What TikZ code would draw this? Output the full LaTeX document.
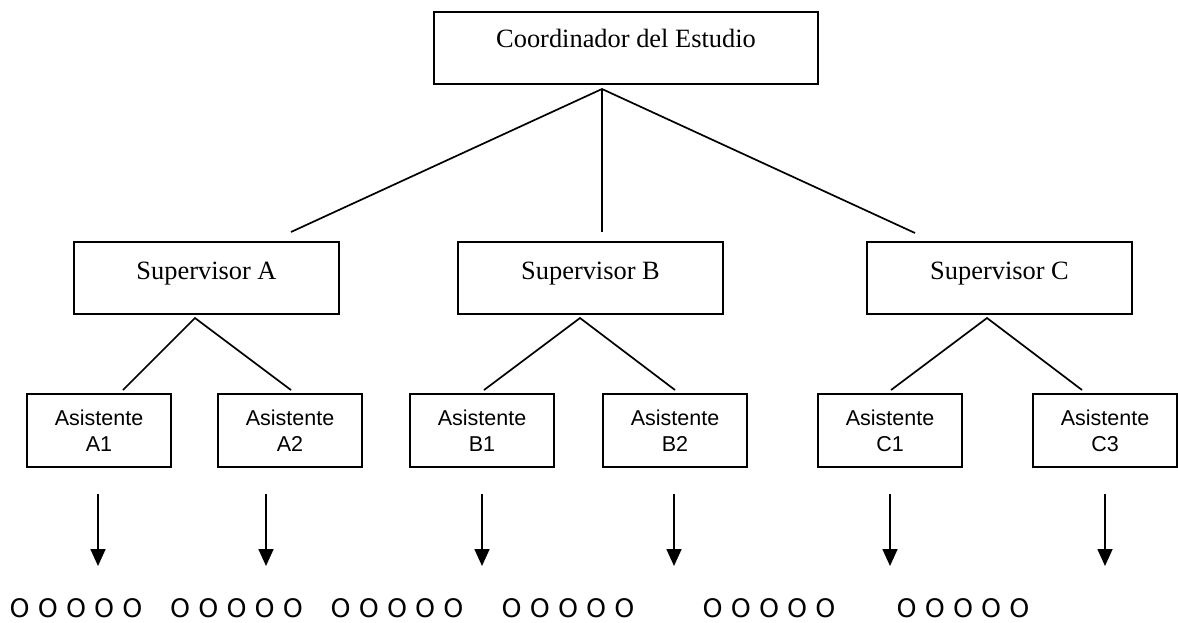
\documentclass[tikz,border=0pt]{standalone}
\usepackage{fontspec}
\setmainfont{Liberation Serif}
\newfontfamily\arialf{Liberation Sans}
\newfontfamily\dejavuf{DejaVu Sans}
\usetikzlibrary{arrows.meta}
\begin{document}
\begin{tikzpicture}[x=1pt,y=-1pt,
  boxst/.style={draw, line width=1.7pt, rectangle, inner sep=0pt},
  coordbox/.style={boxst, minimum width=384pt, minimum height=72pt},
  supbox/.style={boxst, minimum width=265pt, minimum height=72pt},
  asbox/.style={boxst, minimum width=144pt, minimum height=73pt},
  lnk/.style={line width=1.7pt},
  arr/.style={line width=1.7pt, -{Triangle[length=17pt,width=15pt]}},
  sertext/.style={font=\fontsize{26.4}{31}\selectfont, anchor=base, inner sep=0pt},
  santext/.style={font=\arialf\fontsize{21.5}{26}\selectfont, align=center, anchor=north, inner sep=0pt},
  otext/.style={font=\dejavuf\fontsize{25.5}{30}\selectfont, anchor=base west, inner sep=0pt}]
\useasboundingbox (0,0) rectangle (1178,623);

% boxes
\node[coordbox] (co) at (626,48) {};
\node[sertext] (cot) at (626,48) {Coordinador del Estudio};

\node[supbox] (sa) at (206.5,278) {};
\node[sertext] (sat) at (206.5,279) {Supervisor A};
\node[supbox] (sb) at (590.5,278) {};
\node[sertext] (sbt) at (590.5,279) {Supervisor B};
\node[supbox] (sc) at (999.5,278) {};
\node[sertext] (sct) at (999.5,279) {Supervisor C};

\node[asbox] (a1) at (99,430.5) {};
\node[santext] (a1t) at (99,410) {Asistente\\A1};
\node[asbox] (a2) at (290,430.5) {};
\node[santext] (a2t) at (290,410) {Asistente\\A2};
\node[asbox] (b1) at (482,430.5) {};
\node[santext] (b1t) at (482,410) {Asistente\\B1};
\node[asbox] (b2) at (675,430.5) {};
\node[santext] (b2t) at (675,410) {Asistente\\B2};
\node[asbox] (c1) at (890,430.5) {};
\node[santext] (c1t) at (890,410) {Asistente\\C1};
\node[asbox] (c3) at (1105,430.5) {};
\node[santext] (c3t) at (1105,410) {Asistente\\C3};

% connector points
\coordinate (capex) at (602,89);
\coordinate (ca) at (291,232);
\coordinate (cb) at (602,232);
\coordinate (cc) at (915,233);
\coordinate (saap) at (195,318);
\coordinate (sa1) at (123,390);
\coordinate (sa2) at (291,390);
\coordinate (sbap) at (580,318);
\coordinate (sb1) at (484,390);
\coordinate (sb2) at (675,390);
\coordinate (scap) at (987,318);
\coordinate (sc1) at (891,390);
\coordinate (sc2) at (1082,390);

\draw[lnk] (ca) -- (capex) -- (cc);
\draw[lnk] (capex) -- (cb);
\draw[lnk] (sa1) -- (saap) -- (sa2);
\draw[lnk] (sb1) -- (sbap) -- (sb2);
\draw[lnk] (sc1) -- (scap) -- (sc2);

% arrows
\foreach \n/\x in {p1/98,p2/266,p3/482,p4/674,p5/890,p6/1105}{
  \coordinate (\n s) at (\x,494);
  \coordinate (\n e) at (\x,566);
  \draw[arr] (\n s) -- (\n e);
}

% O groups
\node[otext] (o1) at (9.5,617) {O O O O O};
\node[otext] (o2) at (170,617) {O O O O O};
\node[otext] (o3) at (330.5,617) {O O O O O};
\node[otext] (o4) at (501.5,617) {O O O O O};
\node[otext] (o5) at (702.5,617) {O O O O O};
\node[otext] (o6) at (896.5,617) {O O O O O};
\end{tikzpicture}
\end{document}
